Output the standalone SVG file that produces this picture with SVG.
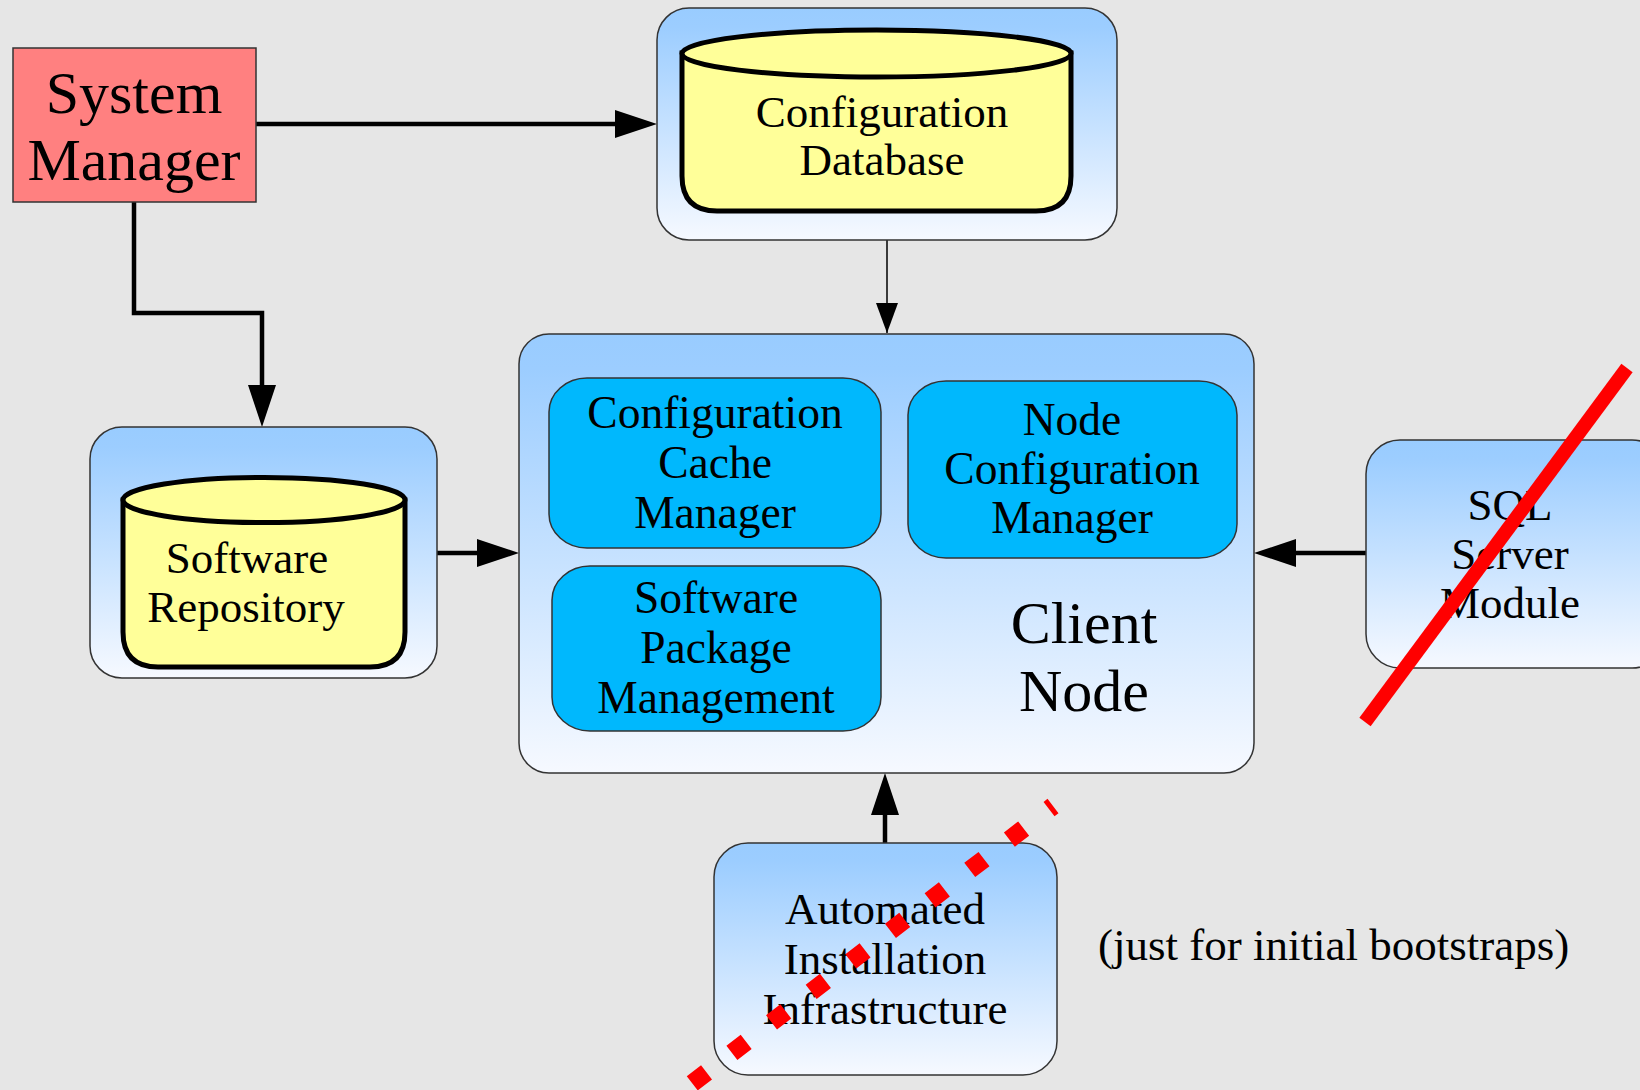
<svg xmlns="http://www.w3.org/2000/svg" width="1640" height="1090" viewBox="0 0 1640 1090">
<style>
.bg{fill:#e6e6e6}
.box{fill:url(#blueGrad);stroke:#333;stroke-width:1.5}
.inner{fill:#00b8fd;stroke:#333;stroke-width:1.5}
.cyl{fill:#ffff99;stroke:#000;stroke-width:5}
.conn{fill:none;stroke:#000;stroke-width:4.5}
.thin{fill:none;stroke:#000;stroke-width:1.5}
text{font-family:"Liberation Serif","Times New Roman",serif;fill:#000;text-anchor:middle}
.t44{font-size:45px}
.t45{font-size:45.5px}
.t60{font-size:60px}
</style>
<defs>
<linearGradient id="blueGrad" x1="0" y1="0" x2="0" y2="1">
<stop offset="0" stop-color="#99ccff"/>
<stop offset="0.08" stop-color="#9ccdff"/>
<stop offset="1" stop-color="#f6f9ff"/>
</linearGradient>
<marker id="arrowBig" markerUnits="userSpaceOnUse" markerWidth="42" markerHeight="28" refX="32" refY="14" orient="auto">
<path d="M0,0 L42,14 L0,28 Z" fill="#000"/>
</marker>
<marker id="arrowSmall" markerUnits="userSpaceOnUse" markerWidth="30" markerHeight="22" refX="30" refY="11" orient="auto">
<path d="M0,0 L30,11 L0,22 Z" fill="#000"/>
</marker>
</defs>
<rect class="bg" x="0" y="0" width="1640" height="1090"/>

<g id="connectors">
<path class="conn" d="M256,124 L647,124" marker-end="url(#arrowBig)"/>
<path class="conn" d="M134,202 L134,313 L262,313 L262,417" marker-end="url(#arrowBig)"/>
<path class="thin" d="M887,240 L887,333" marker-end="url(#arrowSmall)"/>
<path class="conn" d="M437,553 L509,553" marker-end="url(#arrowBig)"/>
<path class="conn" d="M1366,553 L1264,553" marker-end="url(#arrowBig)"/>
<path class="conn" d="M885,843 L885,783" marker-end="url(#arrowBig)"/>
</g>

<g id="system-manager">
<rect x="13" y="48" width="243" height="154" fill="#ff8080" stroke="#333" stroke-width="1.5"/>
<text class="t60" x="134" y="113">System</text>
<text class="t60" x="134" y="180">Manager</text>
</g>

<g id="configuration-database">
<rect class="box" x="657" y="8" width="460" height="232" rx="32" ry="32"/>
<path class="cyl" d="M682,53 L682,176 Q682,211 717,211 L1036,211 Q1071,211 1071,176 L1071,53 Z"/>
<ellipse class="cyl" cx="876.5" cy="53.5" rx="194.5" ry="23.5"/>
<text class="t44" x="882" y="127">Configuration</text>
<text class="t44" x="882" y="175">Database</text>
</g>

<g id="software-repository">
<rect class="box" x="90" y="427" width="347" height="251" rx="32" ry="32"/>
<path class="cyl" d="M123,500 L123,632 Q123,667 158,667 L370,667 Q405,667 405,632 L405,500 Z"/>
<ellipse class="cyl" cx="264" cy="500" rx="141" ry="22.5"/>
<text class="t44" x="247" y="573">Software</text>
<text class="t44" x="246" y="622">Repository</text>
</g>

<g id="client-node">
<rect class="box" x="519" y="334" width="735" height="439" rx="30" ry="30"/>
<text class="t60" x="1084" y="643">Client</text>
<text class="t60" x="1084" y="711">Node</text>
</g>

<g id="configuration-cache-manager">
<rect class="inner" x="549" y="378" width="332" height="170" rx="38" ry="34"/>
<text class="t45" x="715" y="428">Configuration</text>
<text class="t45" x="715" y="478">Cache</text>
<text class="t45" x="715" y="528">Manager</text>
</g>

<g id="node-configuration-manager">
<rect class="inner" x="908" y="381" width="329" height="177" rx="38" ry="34"/>
<text class="t45" x="1072" y="435">Node</text>
<text class="t45" x="1072" y="484">Configuration</text>
<text class="t45" x="1072" y="533">Manager</text>
</g>

<g id="software-package-management">
<rect class="inner" x="552" y="566" width="329" height="165" rx="38" ry="34"/>
<text class="t45" x="716" y="613">Software</text>
<text class="t45" x="716" y="663">Package</text>
<text class="t45" x="716" y="713">Management</text>
</g>

<g id="sql-server-module">
<rect class="box" x="1366" y="440" width="300" height="228" rx="34" ry="34"/>
<text class="t44" x="1510" y="520">SQL</text>
<text class="t44" x="1510" y="569">Server</text>
<text class="t44" x="1510" y="618">Module</text>
<line x1="1627" y1="368" x2="1365" y2="722" stroke="#ff0000" stroke-width="14"/>
</g>

<g id="automated-installation-infrastructure">
<rect class="box" x="714" y="843" width="343" height="232" rx="34" ry="34"/>
<text class="t44" x="885" y="924">Automated</text>
<text class="t44" x="885" y="974">Installation</text>
<text class="t44" x="885" y="1024">Infrastructure</text>
<line x1="1053" y1="806" x2="677" y2="1095" stroke="#ff0000" stroke-width="18" stroke-dasharray="18 32" stroke-dashoffset="13"/>
</g>

<g id="bootstrap-note">
<text class="t44" x="1098" y="960" style="text-anchor:start">(just for initial bootstraps)</text>
</g>
</svg>
